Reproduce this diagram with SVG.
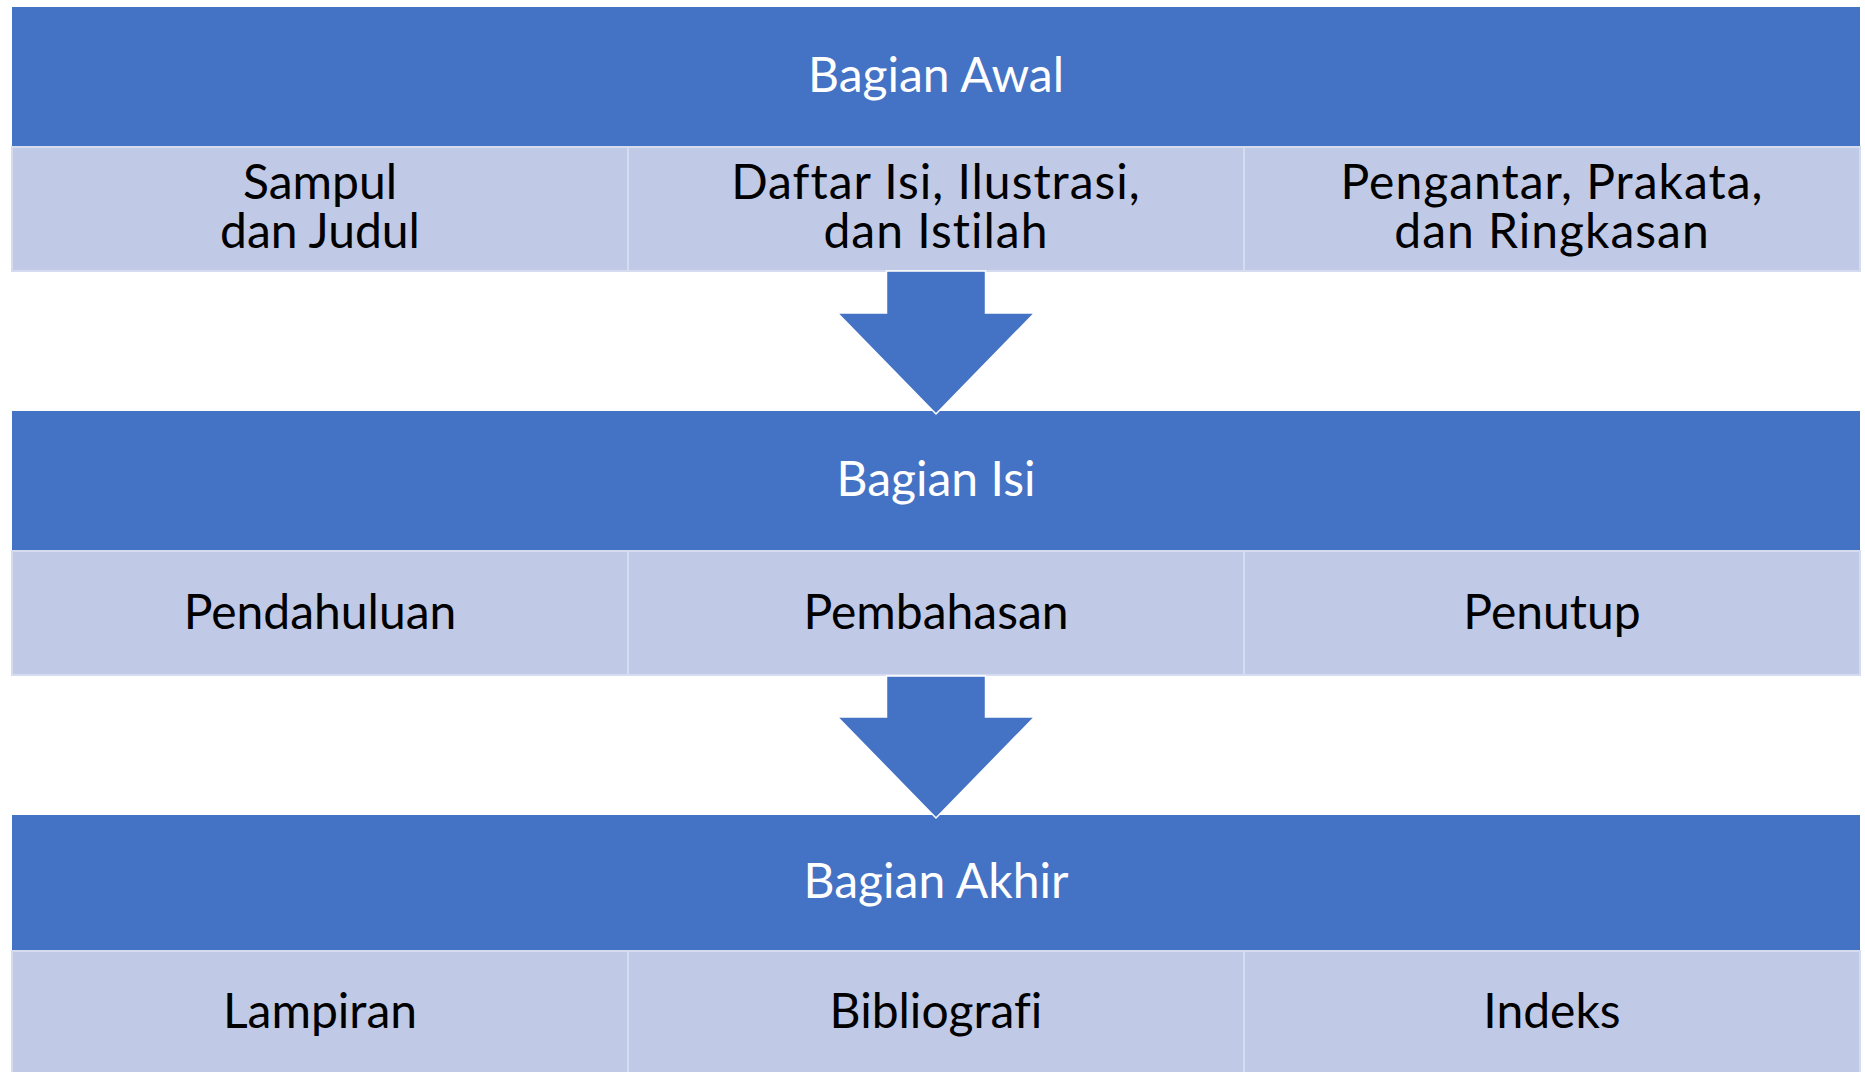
<svg xmlns="http://www.w3.org/2000/svg" width="1865" height="1072" viewBox="0 0 1865 1072">
  <style>
    .hdr { fill: #4472C4; }
    .cell { fill: #C0C9E5; stroke: #D6DCEF; stroke-width: 2; }
    .ht { font-family: Lato, "Open Sans", sans-serif; font-size: 48px; fill: #FFFFFF; text-anchor: middle; font-variant-ligatures: none; }
    .ct { font-family: Lato, "Open Sans", sans-serif; font-size: 48px; fill: #000000; text-anchor: middle; font-variant-ligatures: none; }
    .wide { letter-spacing: 1px; }
    .arrow { fill: #4472C4; stroke: #FFFFFF; stroke-width: 1.5; stroke-linejoin: miter; }
  </style>
  <rect width="1865" height="1072" fill="#FFFFFF"/>

  <!-- Bagian Awal -->
  <g id="bagian-awal">
    <rect class="hdr" x="12" y="7" width="1848" height="140"/>
    <text class="ht" x="936" y="92">Bagian Awal</text>
  </g>
  <g id="sampul">
    <rect class="cell" x="12" y="147" width="616" height="124"/>
    <text class="ct" x="320" y="199">Sampul</text>
    <text class="ct" x="320" y="248">dan Judul</text>
  </g>
  <g id="daftar-isi">
    <rect class="cell" x="628" y="147" width="616" height="124"/>
    <text class="ct wide" x="936" y="199">Daftar Isi, Ilustrasi,</text>
    <text class="ct wide" x="936" y="248">dan Istilah</text>
  </g>
  <g id="pengantar">
    <rect class="cell" x="1244" y="147" width="616" height="124"/>
    <text class="ct wide" x="1552" y="199">Pengantar, Prakata,</text>
    <text class="ct wide" x="1552" y="248">dan Ringkasan</text>
  </g>

  <!-- Bagian Isi -->
  <g id="bagian-isi">
    <rect class="hdr" x="12" y="411" width="1848" height="140"/>
    <text class="ht" x="936" y="496">Bagian Isi</text>
  </g>
  <g id="pendahuluan">
    <rect class="cell" x="12" y="551" width="616" height="124"/>
    <text class="ct" x="320" y="629">Pendahuluan</text>
  </g>
  <g id="pembahasan">
    <rect class="cell" x="628" y="551" width="616" height="124"/>
    <text class="ct" x="936" y="629">Pembahasan</text>
  </g>
  <g id="penutup">
    <rect class="cell" x="1244" y="551" width="616" height="124"/>
    <text class="ct" x="1552" y="629">Penutup</text>
  </g>

  <!-- Bagian Akhir -->
  <g id="bagian-akhir">
    <rect class="hdr" x="12" y="815" width="1848" height="136"/>
    <text class="ht" x="936" y="898">Bagian Akhir</text>
  </g>
  <g id="lampiran">
    <rect class="cell" x="12" y="951" width="616" height="130"/>
    <text class="ct" x="320" y="1028">Lampiran</text>
  </g>
  <g id="bibliografi">
    <rect class="cell" x="628" y="951" width="616" height="130"/>
    <text class="ct" x="936" y="1028">Bibliografi</text>
  </g>
  <g id="indeks">
    <rect class="cell" x="1244" y="951" width="616" height="130"/>
    <text class="ct" x="1552" y="1028">Indeks</text>
  </g>

  <!-- Connectors -->
  <g id="connectors">
    <polygon class="arrow" points="886.5,271 985.5,271 985.5,313 1034.5,313 936,414 837.5,313 886.5,313"/>
    <polygon class="arrow" points="886.5,676 985.5,676 985.5,717 1034.5,717 936,818 837.5,717 886.5,717"/>
  </g>
</svg>
